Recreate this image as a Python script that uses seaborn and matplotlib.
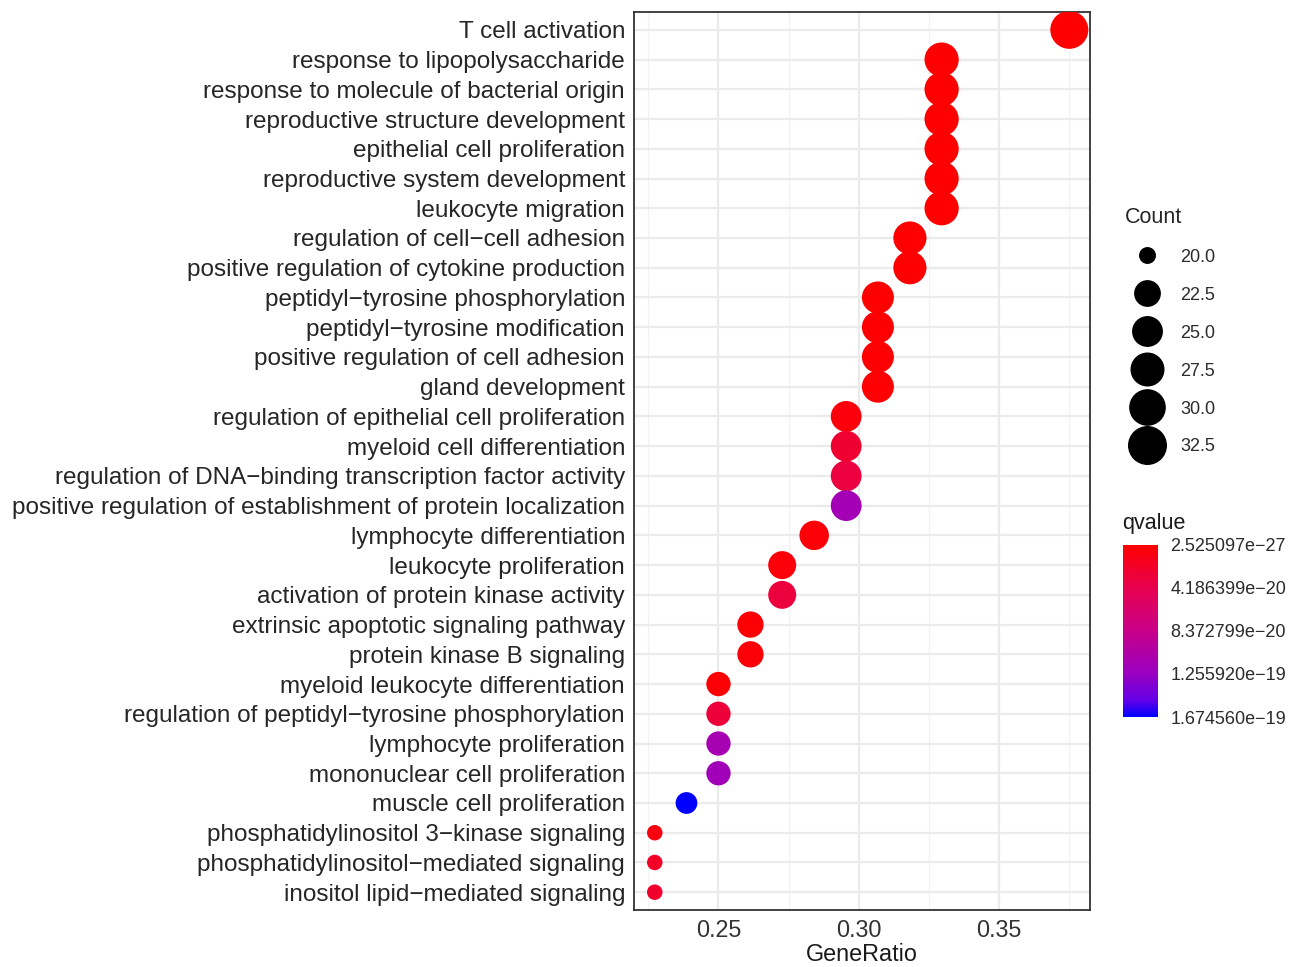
import numpy as np
import pandas as pd
import matplotlib
matplotlib.use("Agg")
import matplotlib.pyplot as plt
import seaborn as sns
from matplotlib.colors import LinearSegmentedColormap, Normalize
from matplotlib.cm import ScalarMappable
from matplotlib.lines import Line2D

terms = [
    "T cell activation",
    "response to lipopolysaccharide",
    "response to molecule of bacterial origin",
    "reproductive structure development",
    "epithelial cell proliferation",
    "reproductive system development",
    "leukocyte migration",
    "regulation of cell\u2212cell adhesion",
    "positive regulation of cytokine production",
    "peptidyl\u2212tyrosine phosphorylation",
    "peptidyl\u2212tyrosine modification",
    "positive regulation of cell adhesion",
    "gland development",
    "regulation of epithelial cell proliferation",
    "myeloid cell differentiation",
    "regulation of DNA\u2212binding transcription factor activity",
    "positive regulation of establishment of protein localization",
    "lymphocyte differentiation",
    "leukocyte proliferation",
    "activation of protein kinase activity",
    "extrinsic apoptotic signaling pathway",
    "protein kinase B signaling",
    "myeloid leukocyte differentiation",
    "regulation of peptidyl\u2212tyrosine phosphorylation",
    "lymphocyte proliferation",
    "mononuclear cell proliferation",
    "muscle cell proliferation",
    "phosphatidylinositol 3\u2212kinase signaling",
    "phosphatidylinositol\u2212mediated signaling",
    "inositol lipid\u2212mediated signaling",
]

gene_ratio = [0.3750,
              0.3295, 0.3295, 0.3295, 0.3295, 0.3295, 0.3295,
              0.3182, 0.3182,
              0.3068, 0.3068, 0.3068, 0.3068,
              0.2955, 0.2955, 0.2955, 0.2955,
              0.2841,
              0.2727, 0.2727,
              0.2614, 0.2614,
              0.2500, 0.2500, 0.2500, 0.2500,
              0.2386,
              0.2273, 0.2273, 0.2273]

counts = [33,
          29, 29, 29, 29, 29, 29,
          28, 28,
          27, 27, 27, 27,
          26, 26, 26, 26,
          25,
          24, 24,
          23, 23,
          22, 22, 22, 22,
          21,
          20, 20, 20]

qvalues = [2.525097e-27,
           1.8e-24, 1.8e-24, 3.1e-23, 3.1e-23, 5.2e-23, 5.2e-23,
           4.0e-22, 6.3e-22,
           1.1e-21, 1.5e-21, 2.0e-21, 2.4e-21,
           6.0e-21, 2.6e-20, 3.4e-20, 1.17e-19,
           4.0e-21,
           5.5e-21, 3.3e-20,
           3.0e-21, 4.5e-21,
           3.0e-21, 3.1e-20, 1.14e-19, 1.18e-19,
           1.67455975e-19,
           8.0e-21, 2.2e-20, 2.4e-20]

count_breaks = [20.0, 22.5, 25.0, 27.5, 30.0, 32.5]
qvalue_tick_labels = ["2.525097e\u221227", "4.186399e\u221220", "8.372799e\u221220",
                      "1.255920e\u221219", "1.674560e\u221219"]

df = pd.DataFrame({"Description": terms, "GeneRatio": gene_ratio,
                   "Count": counts, "qvalue": qvalues})

# ---- styling ----
sns.set_style("white")
plt.rcParams["font.family"] = ["Liberation Sans", "DejaVu Sans"]

DPI = 100
fig = plt.figure(figsize=(12.9, 9.67), dpi=DPI)
ax = fig.add_axes([0.4915, 0.0589, 0.8450 - 0.4915, 0.9876 - 0.0589])

# red -> blue interpolated in Lab space (ggplot2 style)
cmap = LinearSegmentedColormap.from_list(
    "redblue",
    [(0.0, "#FF0000"), (0.25, "#E7004F"), (0.5, "#C80088"),
     (0.75, "#9900C2"), (0.9, "#6600E6"), (1.0, "#0000FF")])
qmin, qmax = min(qvalues), max(qvalues)
norm = Normalize(vmin=qmin, vmax=qmax)

cmin, cmax = min(counts), max(counts)
px2pt = 72.0 / DPI


def diam_px(c):
    size = 3 + 5 * np.sqrt(max(c - cmin, 0) / (cmax - cmin))
    return 4.5 * size + 2


size_map = {c: (diam_px(c) * px2pt) ** 2 for c in sorted(set(counts))}

sns.scatterplot(data=df, x="GeneRatio", y="Description", hue="qvalue",
                size="Count", sizes=size_map, palette=cmap, hue_norm=norm,
                linewidth=0, legend=False, ax=ax, zorder=3)

n = len(terms)
ax.set_ylim(n - 1 + 0.6, -0.6)
lo, hi = min(gene_ratio), max(gene_ratio)
pad = 0.05 * (hi - lo)
ax.set_xlim(lo - pad, hi + pad)

ax.set_xticks([0.25, 0.30, 0.35])
ax.set_xticklabels(["0.25", "0.30", "0.35"])
ax.set_xticks([0.225, 0.275, 0.325, 0.375], minor=True)
ax.grid(True, which="major", color="#EBEBEB", linewidth=1.6, zorder=0)
ax.grid(True, which="minor", axis="x", color="#F2F2F2", linewidth=0.9, zorder=0)
ax.set_axisbelow(True)

for s in ax.spines.values():
    s.set_color("#333333")
    s.set_linewidth(1.3)

ax.tick_params(axis="y", which="major", length=4, width=1.1,
               color="#333333", labelsize=17.5, labelcolor="#262626", pad=2.5)
ax.tick_params(axis="x", which="major", length=4, width=1.1,
               color="#333333", labelsize=16.8, labelcolor="#333333", pad=2.5)
ax.tick_params(axis="x", which="minor", length=0)
ax.set_ylabel("")
ax.set_xlabel("GeneRatio", fontsize=16.8, color="#1a1a1a", labelpad=1)

# ---- size legend ----
handles = [Line2D([], [], marker="o", linestyle="", color="black",
                  markersize=diam_px(b) * px2pt) for b in count_breaks]
labels = [f"{b:.1f}" for b in count_breaks]
leg = fig.legend(handles, labels, title="Count", loc="upper left",
                 bbox_to_anchor=(0.8653, 0.7955), frameon=False,
                 fontsize=13, title_fontsize=15.5, labelspacing=1.16,
                 handlelength=2.44, handletextpad=0.6, borderpad=0,
                 alignment="left")
for t in leg.get_texts():
    t.set_color("#2b2b2b")

# ---- colour bar ----
cax = fig.add_axes([0.8705, 0.2585, 0.0271, 0.178])
cb = fig.colorbar(ScalarMappable(norm=norm, cmap=cmap), cax=cax)
cb.outline.set_visible(False)
ticks = np.linspace(qmin, qmax, len(qvalue_tick_labels))
cb.set_ticks(ticks)
cb.set_ticklabels(qvalue_tick_labels)
cax.invert_yaxis()
cax.tick_params(axis="y", direction="in", color="white", length=7, width=1,
                left=True, right=True, labelleft=False, labelright=True,
                labelsize=13, labelcolor="#2b2b2b", pad=9)
fig.text(0.8697, 0.4475, "qvalue", fontsize=15.5, color="#1a1a1a",
         ha="left", va="bottom")

fig.savefig("out.png", dpi=DPI, facecolor="white")
